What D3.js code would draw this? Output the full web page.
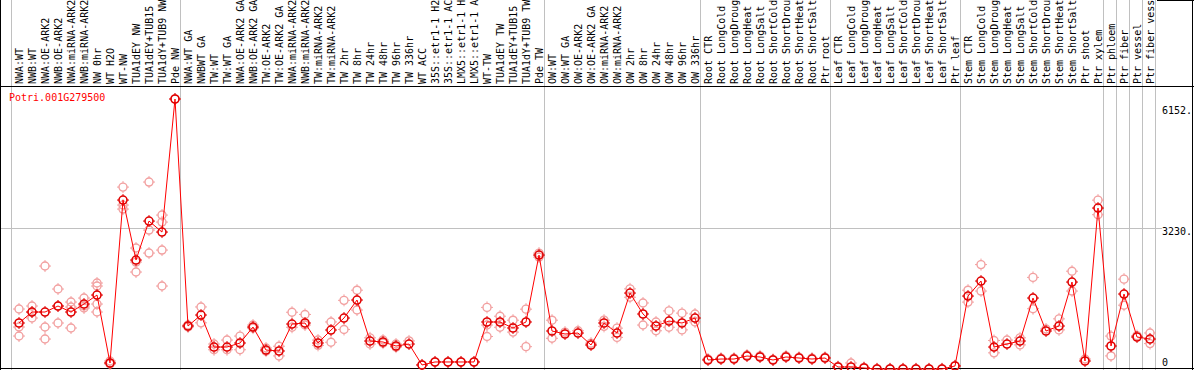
<!DOCTYPE html>
<html><head><meta charset="utf-8">
<script src="https://cdn.jsdelivr.net/npm/d3@7"></script>
<style>
body{margin:0;background:#fff}
svg{display:block}
text{font-family:"DejaVu Sans Mono",monospace;font-size:10px}
</style>
</head><body><svg id="c" width="1194" height="370"></svg>
<script>
const categories = [
 "NWA:WT","NWB:WT","NWA:OE-ARK2","NWB:OE-ARK2","NWA:miRNA-ARK2","NWB:miRNA-ARK2","NW 0hr","WT H2O","WT-NW","TUA1dEY NW","TUA1dEY+TUB15 NW","TUA1dY+TUB9 NW","Pde NW",
 "NWA:WT GA","NWBWT GA","TW:WT","TW:WT GA","NWA:OE-ARK2 GA","NWB:OE-ARK2 GA","TW:OE-ARK2","TW:OE-ARK2 GA","NWA:miRNA-ARK2 GA","NWB:miRNA-ARK2 GA","TW:miRNA-ARK2","TW:miRNA-ARK2 GA",
 "TW 2hr","TW 8hr","TW 24hr","TW 48hr","TW 96hr","TW 336hr","WT ACC","35S::etr1-1 H2O","35S::etr1-1 ACC","LMX5::etr1-1 H2O","LMX5::etr1-1 ACC","WT-TW","TUA1dEY TW","TUA1dEY+TUB15 TW","TUA1dY+TUB9 TW","Pde TW",
 "OW:WT","OW:WT GA","OW:OE-ARK2","OW:OE-ARK2 GA","OW:miRNA-ARK2","OW:miRNA-ARK2 GA","OW 2hr","OW 8hr","OW 24hr","OW 48hr","OW 96hr","OW 336hr",
 "Root CTR","Root LongCold","Root LongDrought","Root LongHeat","Root LongSalt","Root ShortCold","Root ShortDrought","Root ShortHeat","Root ShortSalt","Ptr root",
 "Leaf CTR","Leaf LongCold","Leaf LongDrought","Leaf LongHeat","Leaf LongSalt","Leaf ShortCold","Leaf ShortDrought","Leaf ShortHeat","Leaf ShortSalt","Ptr leaf",
 "Stem CTR","Stem LongCold","Stem LongDrought","Stem LongHeat","Stem LongSalt","Stem ShortCold","Stem ShortDrought","Stem ShortHeat","Stem ShortSalt","Ptr shoot",
 "Ptr xylem","Ptr phloem","Ptr fiber","Ptr vessel","Ptr fiber vessel"
];
const means = [
 1076,1325,1325,1461,1325,1506,1710,170,3862,2503,3386,3137,6152,
 1008,1257,532,532,623,985,464,442,1053,1076,623,917,
 1189,1597,668,646,555,600,125,193,193,193,193,1099,1099,963,1099,2616,
 895,827,849,578,1076,849,1755,1280,1008,1121,1076,1189,
 238,260,260,328,306,238,306,283,260,283,
 79,79,57,34,34,34,34,34,34,102,
 1687,2027,532,600,668,1642,895,1008,2004,215,
 3681,555,1733,759,713
];
const replicates = [
 [1393,985,781],[1461,1325,1189],[2367,985,713],[1846,1461,1076],[1551,1438,963],[1642,1461,1416],[1982,1914,1506,1325],[215,170,147],[4156,3749,3658],[2775,2457,2231],[4270,3182,2661],[3522,3363,2729,1914],[6152],
 [1030,985],[1440,1080],[600,470],[690,470],[780,470],[1030,960],[510,440],[550,330],[1320,980],[1270,1030],[690,570],[1100,640],
 [1590,930],[1820,1370],[740,600],[690,620],[600,530],[670],[125],[193],[193],[193],[193],[1430,1030,770],[1230,980],[1140,870],[1390,540],[2660,2570],
 [1140,730],[870],[900],[620],[1140,1000],[960,750],[1850,1660],[1530,1030],[1100,900],[1350,980],[1300,920],[1280,1100],
 [260],[280],[280],[350],[330],[250],[330],[300],[280],[300],
 [90],[170],[70],[40],[40],[40],[40],[40],[40],[110],
 [1820,1550],[2400,1800],[680,400],[690],[740,580],[2110,1400],[940],[1170,920],[2250,1800],[260],
 [3860,3530],[780,330],[2070,1480],[790],[850,610]
];
const groupEnds = [-1,12,40,52,62,72,83,84,85,86,87];
const tickValues = [0,3230,6152];
const tickLabels = ["0","3230.","6152."];
const geneId = "Potri.001G279500";
const labelChars = 14; // label column fits 14 characters

const W = 1194, H = 370, labelBottom = 86, plotBottom = 368;
const svg = d3.select("#c");
svg.append("rect").attr("width",W).attr("height",H).attr("fill","#fff");

const x = d3.scaleBand().domain(categories).range([12.5, 12.5 + 13*categories.length]);
const cx = c => x(c) + x.bandwidth()/2;
const y = d3.scaleLinear().domain([0, 6152]).range([370.5, 99]);

// separators
svg.append("g").selectAll("line").data(groupEnds).join("line")
  .attr("x1", i => Math.round(x.range()[0] + x.step()*(i+1) - 1.5) + 0.5)
  .attr("x2", i => Math.round(x.range()[0] + x.step()*(i+1) - 1.5) + 0.5)
  .attr("y1", 0).attr("y2", H)
  .attr("stroke", "#c0c0c0").attr("stroke-width", 1);

// horizontal grid line
svg.append("g").selectAll("line").data(tickValues.filter(v => v > 0 && v < 6152)).join("line")
  .attr("x1", 1).attr("x2", 1162)
  .attr("y1", v => Math.round(y(v)) + 0.5).attr("y2", v => Math.round(y(v)) + 0.5)
  .attr("stroke", "#c0c0c0");

// frame
const frame = svg.append("g").attr("stroke","#000").attr("stroke-width",1);
frame.append("line").attr("x1",0).attr("x2",W).attr("y1",labelBottom+0.5).attr("y2",labelBottom+0.5);
frame.append("line").attr("x1",0.5).attr("x2",0.5).attr("y1",0).attr("y2",H);
frame.append("line").attr("x1",1192.5).attr("x2",1192.5).attr("y1",0).attr("y2",H);
frame.append("line").attr("x1",0).attr("x2",W).attr("y1",plotBottom+0.5).attr("y2",plotBottom+0.5);
frame.append("line").attr("x1",1157).attr("x2",W).attr("y1",0.5).attr("y2",0.5);

// category labels (label column shows the first 14 characters)
svg.append("g").selectAll("text").data(categories).join("text")
  .attr("transform", c => `translate(${cx(c)+3.5},84) rotate(-90)`)
  .attr("fill","#000")
  .text(c => c.slice(0, labelChars));

// gene id
svg.append("text").attr("x",9).attr("y",97).attr("dy","0.35em").attr("fill","#ff0000").text(geneId);

// y tick labels
svg.append("g").selectAll("text").data(tickValues).join("text")
  .attr("x",1162)
  .attr("y", (v) => Math.min(Math.max(y(v), 106), 358) + 4)
  .attr("dy","0.35em")
  .attr("fill","#000")
  .text((v,i) => tickLabels[i]);

// marker
function marker(g, color, sw){
  g.append("circle").attr("r",4).attr("fill","none").attr("stroke",color).attr("stroke-width",sw);
  [[0,-4,0,-6],[0,4,0,6],[-4,0,-6,0],[4,0,6,0]].forEach(p=>{
    g.append("line").attr("x1",p[0]).attr("y1",p[1]).attr("x2",p[2]).attr("y2",p[3]).attr("stroke",color).attr("stroke-width",1);
  });
}

// replicates
const repData = [];
categories.forEach((c,i) => replicates[i].forEach(v => repData.push({c, v})));
svg.append("g").selectAll("g").data(repData).join("g")
  .attr("transform", d => `translate(${cx(d.c)},${y(d.v)})`)
  .each(function(){ marker(d3.select(this), "#f2a0a0", 1.4); });

// mean line
svg.append("path").datum(categories)
  .attr("d", d3.line().x(c => cx(c)).y((c,i) => y(means[i])))
  .attr("fill","none").attr("stroke","#ff0000").attr("stroke-width",1);

// mean markers
svg.append("g").selectAll("g").data(categories).join("g")
  .attr("transform", (c,i) => `translate(${cx(c)},${y(means[i])})`)
  .each(function(){ marker(d3.select(this), "#e00000", 1.6); });
</script>
</body></html>
